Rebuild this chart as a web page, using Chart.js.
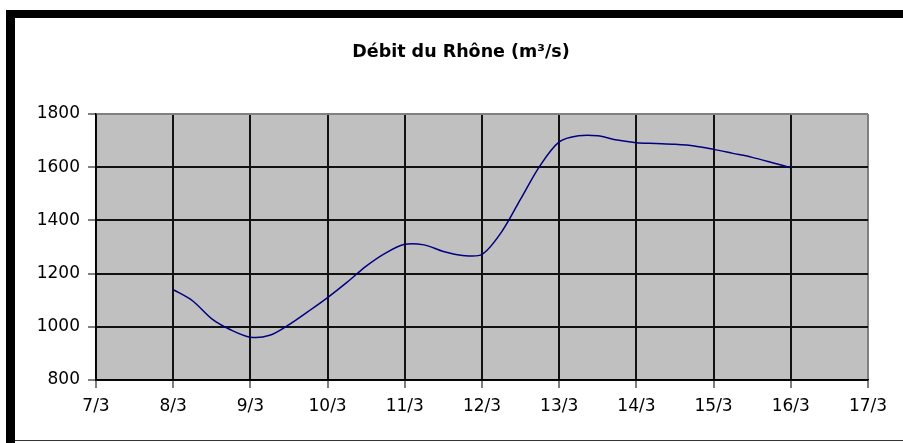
<!DOCTYPE html>
<html>
<head>
<meta charset="utf-8">
<title>Débit du Rhône</title>
<script src="https://cdn.jsdelivr.net/npm/chart.js@4/dist/chart.umd.min.js"></script>
<style>
  html, body { margin: 0; padding: 0; background: #fff; }
  canvas { display: block; }
</style>
</head>
<body>
<canvas id="flowChart" width="903" height="443"></canvas>
<script>
// Days of March (6-hour steps) and river flow in m3/s
const days = [
  8, 8.25, 8.5, 8.75, 9, 9.25, 9.5, 9.75,
  10, 10.25, 10.5, 10.75, 11, 11.25, 11.5, 11.75,
  12, 12.25, 12.5, 12.75, 13, 13.25, 13.5, 13.75,
  14, 14.25, 14.5, 14.75, 15, 15.25, 15.5, 15.75, 16
];
const flow = [
  1140, 1098, 1030, 988, 961, 968, 1008, 1058,
  1110, 1167, 1228, 1277, 1310, 1308, 1283, 1268,
  1272, 1355, 1480, 1605, 1695, 1718, 1718, 1702,
  1692, 1689, 1686, 1680, 1667, 1652, 1637, 1618, 1598
];
const dayTicks = [7, 8, 9, 10, 11, 12, 13, 14, 15, 16, 17];
const flowTicks = [800, 1000, 1200, 1400, 1600, 1800];
const chartTitle = 'Débit du Rhône (m³/s)';

const points = days.map((d, i) => ({ x: d, y: flow[i] }));

// white sheet with the black frame, grey plot area and the title
const framePlugin = {
  id: 'frame',
  beforeDraw(chart) {
    const { ctx, chartArea: a } = chart;
    ctx.save();
    ctx.fillStyle = '#fff';
    ctx.fillRect(0, 0, chart.width, chart.height);
    ctx.fillStyle = '#000';
    ctx.fillRect(6, 10, chart.width - 6, 8);
    ctx.fillRect(6, 10, 9, chart.height - 10);
    ctx.fillStyle = '#333';
    ctx.fillRect(15, 440, chart.width - 15, 1);
    ctx.fillStyle = '#c0c0c0';
    ctx.fillRect(a.left, a.top, a.right - a.left, a.bottom - a.top);
    ctx.strokeStyle = '#808080';
    ctx.lineWidth = 1;
    ctx.beginPath();
    ctx.moveTo(a.left, a.top + 0.5);
    ctx.lineTo(a.right + 0.5, a.top + 0.5);
    ctx.lineTo(a.right + 0.5, a.bottom);
    ctx.stroke();
    ctx.fillStyle = '#000';
    ctx.font = 'bold 17.5px "DejaVu Sans"';
    ctx.textAlign = 'center';
    ctx.textBaseline = 'middle';
    ctx.fillText(chartTitle, 461, 52);
    ctx.restore();
  }
};

const tickFont = { family: 'DejaVu Sans', size: 17 };

new Chart(document.getElementById('flowChart'), {
  type: 'line',
  data: {
    datasets: [{
      data: points,
      borderColor: '#000080',
      borderWidth: 1.5,
      pointRadius: 0,
      tension: 0.3,
      fill: false
    }]
  },
  options: {
    responsive: false,
    devicePixelRatio: 1,
    animation: false,
    layout: { padding: { top: 114, right: 35, left: 0, bottom: 0 } },
    plugins: {
      legend: { display: false },
      tooltip: { enabled: false },
      title: { display: false }
    },
    scales: {
      x: {
        type: 'linear',
        min: dayTicks[0],
        max: dayTicks[dayTicks.length - 1],
        afterBuildTicks: s => { s.ticks = dayTicks.map(v => ({ value: v })); },
        afterFit: s => { s.height = 63; },
        ticks: {
          color: '#000',
          font: tickFont,
          padding: 8,
          maxRotation: 0,
          callback: v => v + '/3'
        },
        grid: {
          color: c => (c.tick && c.tick.value === 17 ? '#808080' : '#111'),
          lineWidth: 2,
          tickLength: 8,
          tickColor: '#000',
          tickWidth: 1
        },
        border: { color: '#000', width: 1.5 }
      },
      y: {
        min: flowTicks[0],
        max: flowTicks[flowTicks.length - 1],
        afterBuildTicks: s => { s.ticks = flowTicks.map(v => ({ value: v })); },
        afterFit: s => { s.width = 96; },
        ticks: {
          color: '#000',
          font: tickFont,
          padding: 8,
          callback: v => String(v)
        },
        grid: {
          color: c => (c.tick && c.tick.value === 1800 ? '#808080' : '#111'),
          lineWidth: 2,
          tickLength: 8,
          tickColor: '#000',
          tickWidth: 1
        },
        border: { color: '#000', width: 1.5 }
      }
    }
  },
  plugins: [framePlugin]
});
</script>
</body>
</html>
